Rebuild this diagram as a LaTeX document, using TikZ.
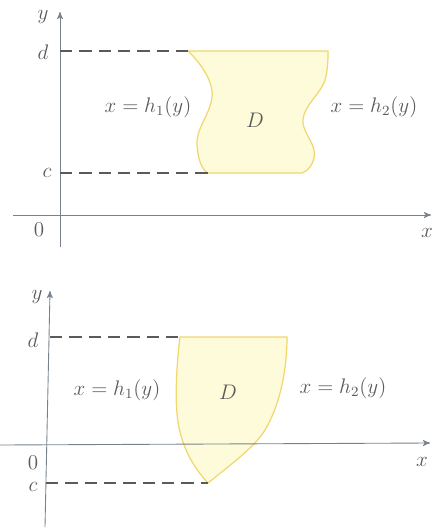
\documentclass[tikz,border=0pt]{standalone}
\usepackage{amssymb}
\usepackage{amsmath}
\usetikzlibrary{positioning,arrows}
\definecolor{regionfill}{RGB}{253,251,218}
\definecolor{regionedge}{RGB}{240,215,110}
\definecolor{axisgray}{RGB}{120,130,140}
\definecolor{labelgray}{RGB}{90,90,90}
\tikzset{
  >=stealth',
  axis/.style={->, draw=axisgray, line width=0.5pt},
  guide/.style={dashed, draw=labelgray, line width=0.6pt, dash pattern=on 7pt off 4pt},
  region/.style={fill=regionfill, draw=regionedge, line width=0.7pt},
  lbl/.style={text=labelgray, font=\large},
}

\begin{document}
\begin{tikzpicture}[x=0.02cm, y=-0.02cm]
    \useasboundingbox (0,0) rectangle (433,529);
    % top: region between x = h1(y) and x = h2(y), c <= y <= d
    \coordinate (o1)  at (60,215);
    \coordinate (xa1) at (13,215);
    \coordinate (xb1) at (431,215);
    \coordinate (ya1) at (60,247);
    \coordinate (yb1) at (60,12);
    \coordinate (d1)  at (60,51);
    \coordinate (c1)  at (60,173);
    \coordinate (dl1) at (188,51);
    \coordinate (cl1) at (208,173);
    \path[region] (dl1) .. controls (200,62) and (214,82) .. (212,97)
      .. controls (210,115) and (196,128) .. (197,145)
      .. controls (198,160) and (202,170) .. (cl1)
      -- (302,173) .. controls (310,170) and (316,160) .. (314,150)
      .. controls (312,140) and (302,130) .. (303,120)
      .. controls (304,105) and (320,95) .. (325,80)
      .. controls (328,70) and (328,58) .. (328,51) -- cycle;
    \draw[axis] (xa1) -- (xb1);
    \draw[axis] (ya1) -- (yb1);
    \draw[guide] (d1) -- (dl1);
    \draw[guide] (c1) -- (cl1);
    \node[lbl] (ylab1) at (43,17)  {$y$};
    \node[lbl] (xlab1) at (427,233) {$x$};
    \node[lbl] (zero1) at (39,230) {$0$};
    \node[lbl] (dlab1) at (43,52)  {$d$};
    \node[lbl] (clab1) at (47,173) {$c$};
    \node[lbl] (h1a)   at (148,107) {$x = h_1(y)$};
    \node[lbl] (h2a)   at (374,107) {$x = h_2(y)$};
    \node[lbl] (Da)    at (255,120) {$D$};

    % bottom: region reaching below the x axis
    \coordinate (xa2) at (0,445);
    \coordinate (xb2) at (430,443);
    \coordinate (ya2) at (45,527);
    \coordinate (yb2) at (50,291);
    \coordinate (d2)  at (50,337);
    \coordinate (c2)  at (46,483);
    \coordinate (dl2) at (180,337);
    \coordinate (cl2) at (208,483);
    \path[region] (dl2) .. controls (176,370) and (174,410) .. (180,432)
      .. controls (186,455) and (196,470) .. (cl2)
      .. controls (230,465) and (255,447) .. (265,430)
      .. controls (280,405) and (287,370) .. (287,337) -- cycle;
    \draw[axis] (xa2) -- (xb2);
    \draw[axis] (ya2) -- (yb2);
    \draw[guide] (d2) -- (dl2);
    \draw[guide] (c2) -- (cl2);
    \node[lbl] (ylab2) at (37,297)  {$y$};
    \node[lbl] (xlab2) at (422,462) {$x$};
    \node[lbl] (zero2) at (33,463)  {$0$};
    \node[lbl] (dlab2) at (33,340)  {$d$};
    \node[lbl] (clab2) at (33,487)  {$c$};
    \node[lbl] (h1b)   at (117,390) {$x = h_1(y)$};
    \node[lbl] (h2b)   at (343,388) {$x = h_2(y)$};
    \node[lbl] (Db)    at (228,392) {$D$};
\end{tikzpicture}
\end{document}
